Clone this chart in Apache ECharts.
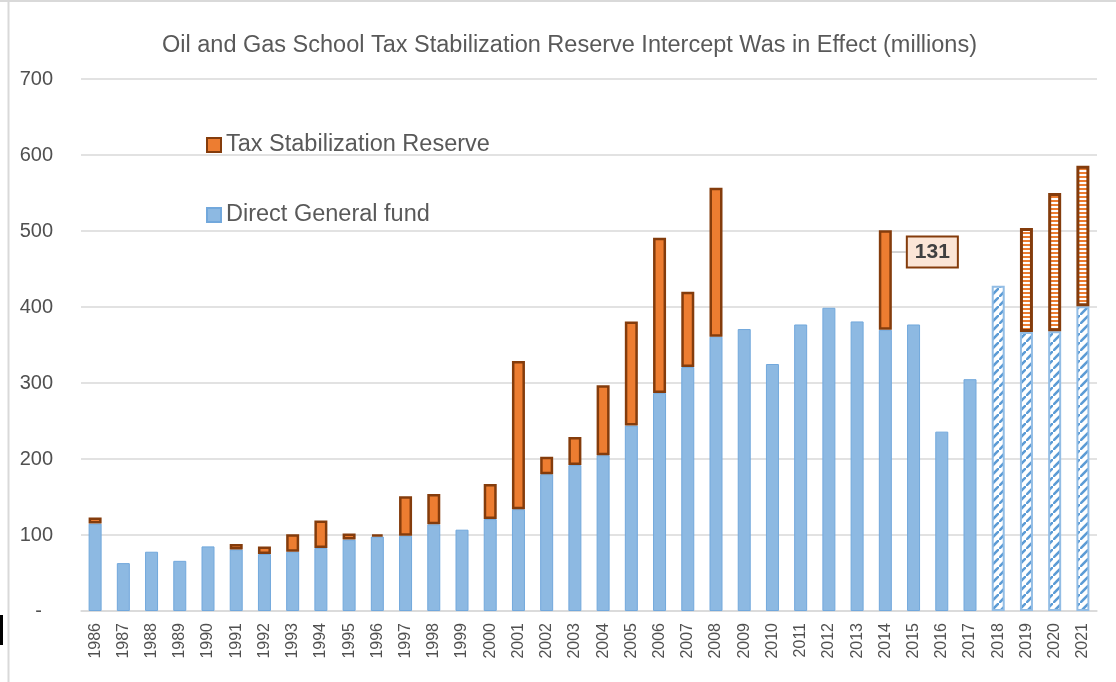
<!DOCTYPE html>
<html>
<head>
<meta charset="utf-8">
<script src="https://cdn.jsdelivr.net/npm/echarts@6/dist/echarts.min.js"></script>
<style>
  html, body { margin: 0; padding: 0; background: #fff; }
  #chart { width: 1116px; height: 682px; }
</style>
</head>
<body>
<div id="chart"></div>
<script>
var years = ['1986', '1987', '1988', '1989', '1990', '1991', '1992', '1993', '1994', '1995',
  '1996', '1997', '1998', '1999', '2000', '2001', '2002', '2003', '2004', '2005',
  '2006', '2007', '2008', '2009', '2010', '2011', '2012', '2013', '2014', '2015',
  '2016', '2017', '2018', '2019', '2020', '2021'];
var generalFund = [115, 63, 78, 66, 85, 81, 75, 78, 83, 94,
  98, 99, 114, 107, 121, 134, 180, 192, 205, 244,
  287, 321, 361, 371, 325, 377, 399, 381, 370, 377,
  236, 305, 428, 367, 368, 401];
var stabReserve = [8, null, null, null, null, 7, 10, 23, 36, 8,
  3, 52, 40, null, 46, 195, 23, 37, 92, 137,
  204, 99, 196, null, null, null, null, null, 131, null,
  null, null, null, 137, 182, 185];
var projectedYears = ['2018', '2019', '2020', '2021'];
var calloutYear = '2014';
var yTicks = [0, 100, 200, 300, 400, 500, 600, 700];

(function() {
  var grey = '#595959';
  var rule = '#d9d9d9';
  var blue = '#8DB9E2';
  var blueEdge = '#72A8DC';
  var orange = '#ED7D31';
  var brown = '#843C0C';

  // hatch fills for the projected years
  function makePattern(kind) {
    var c = document.createElement('canvas');
    var ctx = c.getContext('2d');
    if (kind === 'diag') {
      c.width = 9; c.height = 9;
      ctx.fillStyle = '#ffffff';
      ctx.fillRect(0, 0, 9, 9);
      ctx.strokeStyle = '#5B9BD5';
      ctx.lineWidth = 2.6;
      ctx.beginPath();
      ctx.moveTo(-1, 10); ctx.lineTo(10, -1);
      ctx.stroke();
    } else {
      c.width = 4; c.height = 4;
      ctx.fillStyle = '#ffffff';
      ctx.fillRect(0, 0, 4, 4);
      ctx.fillStyle = orange;
      ctx.fillRect(0, 0, 4, 2);
    }
    return { image: c, repeat: 'repeat' };
  }
  var diagFill = makePattern('diag');
  var stripeFill = makePattern('stripe');

  var fundData = generalFund.map(function(v, i) {
    if (projectedYears.indexOf(years[i]) >= 0) {
      return { value: v, itemStyle: { color: diagFill, borderColor: '#92BDE5', borderWidth: 2 } };
    }
    return v;
  });
  var reserveData = stabReserve.map(function(v, i) {
    if (v == null) return '-';
    var item = { value: v };
    if (projectedYears.indexOf(years[i]) >= 0) {
      item.itemStyle = { color: stripeFill, borderColor: brown, borderWidth: 3 };
    }
    if (years[i] === calloutYear) {
      item.label = { show: true };
    }
    return item;
  });

  var chart = echarts.init(document.getElementById('chart'));
  chart.setOption({
    animation: false,
    title: {
      text: 'Oil and Gas School Tax Stabilization Reserve Intercept Was in Effect (millions)',
      left: 157,
      top: 29,
      textStyle: { color: grey, fontSize: 23.5, fontWeight: 'normal', fontFamily: 'Liberation Sans' }
    },
    legend: {
      orient: 'vertical',
      left: 201,
      top: 128,
      itemGap: 46,
      itemWidth: 14,
      itemHeight: 14,
      icon: 'rect',
      data: ['Tax Stabilization Reserve', 'Direct General fund'],
      textStyle: { color: grey, fontSize: 23.5, fontFamily: 'Liberation Sans' }
    },
    grid: { left: 81, right: 19, top: 79, bottom: 71, containLabel: false },
    xAxis: {
      type: 'category',
      data: years,
      axisTick: { show: false },
      axisLine: { lineStyle: { color: rule, width: 1.5 } },
      axisLabel: { color: '#505050', fontSize: 16, rotate: 90, margin: 12, interval: 0, fontFamily: 'Liberation Sans' }
    },
    yAxis: {
      type: 'value',
      min: yTicks[0],
      max: yTicks[yTicks.length - 1],
      interval: 100,
      axisLine: { show: false },
      axisTick: { show: false },
      splitLine: { lineStyle: { color: rule, width: 1.5 } },
      axisLabel: {
        color: '#505050', fontSize: 20, margin: 28, fontFamily: 'Liberation Sans',
        formatter: function(v) { return v === 0 ? '-  ' : String(v); }
      }
    },
    graphic: [
      { type: 'line', shape: { x1: 8.5, y1: 0, x2: 8.5, y2: 682 }, style: { stroke: rule, lineWidth: 2 } },
      { type: 'line', shape: { x1: 0, y1: 1, x2: 1116, y2: 1 }, style: { stroke: rule, lineWidth: 2 } },
      { type: 'rect', shape: { x: 0, y: 615, width: 3, height: 30 }, style: { fill: '#000' } }
    ],
    series: [
      {
        name: 'Direct General fund',
        type: 'bar',
        stack: 'total',
        barWidth: 13,
        data: fundData,
        itemStyle: { color: blue, borderColor: blueEdge, borderWidth: 1 }
      },
      {
        name: 'Tax Stabilization Reserve',
        type: 'bar',
        stack: 'total',
        barWidth: 13,
        data: reserveData,
        itemStyle: { color: orange, borderColor: brown, borderWidth: 2.5 },
        label: {
          show: false,
          position: 'right',
          distance: 4,
          color: '#404040',
          fontSize: 21,
          fontWeight: 'bold',
          fontFamily: 'Liberation Sans',
          backgroundColor: '#FBE5D6',
          borderColor: brown,
          borderWidth: 2,
          padding: [4, 7, 4, 7]
        },
        labelLine: { show: true, lineStyle: { color: '#a6a6a6', width: 1 } },
        labelLayout: { dx: 12, dy: -28 }
      }
    ]
  });
  window.addEventListener('resize', function() { chart.resize(); });
})();
</script>
</body>
</html>
